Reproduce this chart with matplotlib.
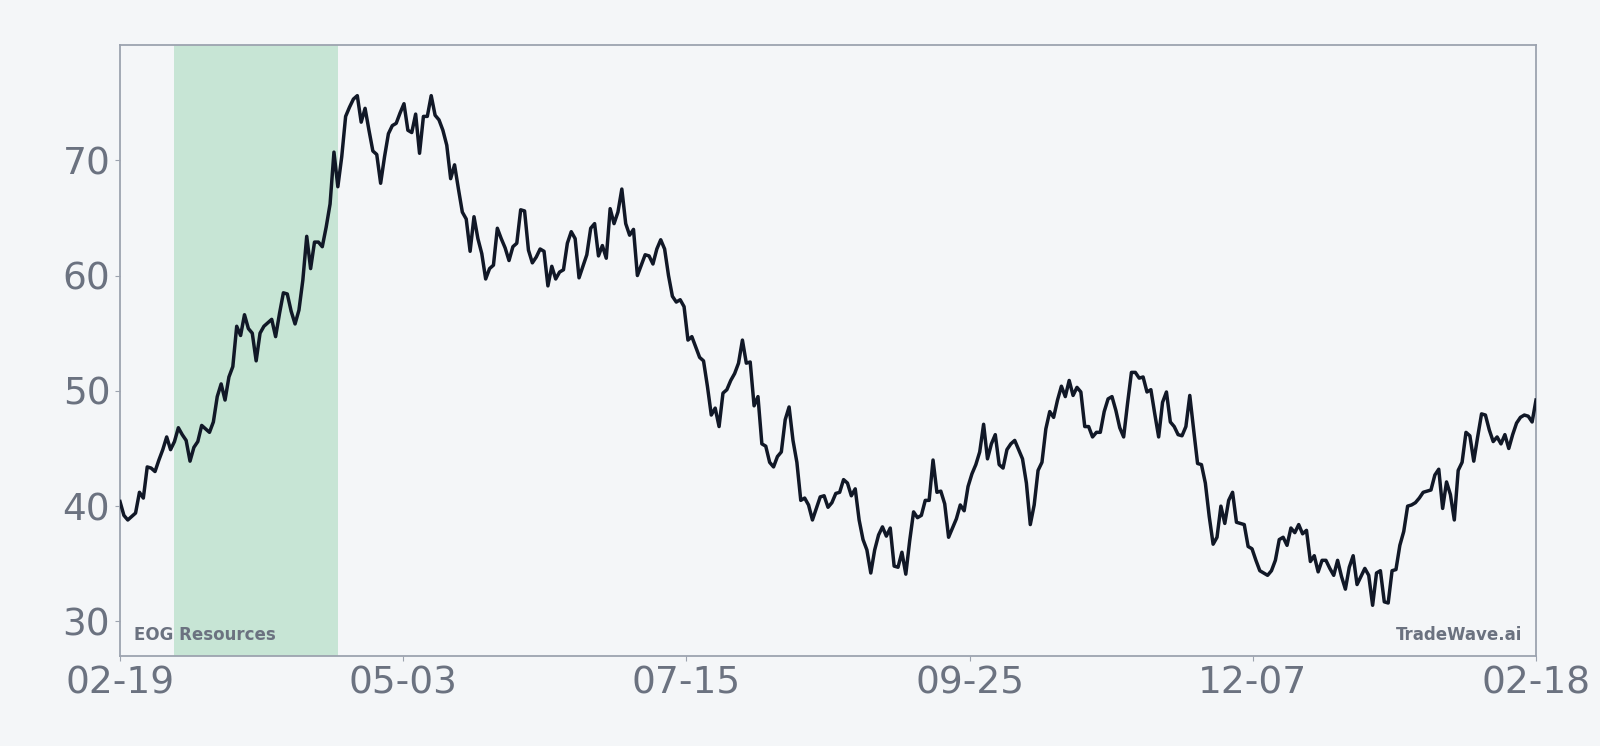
import numpy as np
import pandas as pd
import matplotlib
matplotlib.use("Agg")
import matplotlib.pyplot as plt
import matplotlib.dates as mdates

# ---- data -------------------------------------------------------------
start_date = "2023-02-19"
prices = [
    40.4, 39.2, 38.8, 39.1, 39.4, 41.2, 40.7, 43.4, 43.3, 43.0,
    44.0, 44.9, 46.0, 44.9, 45.6, 46.8, 46.2, 45.7, 43.9, 45.1,
    45.6, 47.0, 46.7, 46.4, 47.3, 49.5, 50.6, 49.2, 51.2, 52.1,
    55.6, 54.8, 56.6, 55.4, 55.0, 52.6, 55.0, 55.6, 55.9, 56.2,
    54.7, 56.7, 58.5, 58.4, 56.9, 55.8, 57.0, 59.6, 63.4, 60.6,
    62.9, 62.9, 62.5, 64.2, 66.2, 70.7, 67.7, 70.3, 73.8, 74.6,
    75.3, 75.6, 73.3, 74.5, 72.6, 70.8, 70.5, 68.0, 70.3, 72.3,
    73.0, 73.2, 74.1, 74.9, 72.6, 72.4, 74.0, 70.6, 73.8, 73.8,
    75.6, 73.9, 73.5, 72.6, 71.3, 68.4, 69.6, 67.5, 65.5, 64.9,
    62.1, 65.1, 63.2, 61.9, 59.7, 60.6, 60.9, 64.1, 63.2, 62.4,
    61.3, 62.5, 62.8, 65.7, 65.6, 62.2, 61.1, 61.6, 62.3, 62.1,
    59.1, 60.8, 59.7, 60.3, 60.5, 62.8, 63.8, 63.2, 59.8, 60.8,
    61.8, 64.1, 64.5, 61.7, 62.6, 61.5, 65.8, 64.5, 65.5, 67.5,
    64.5, 63.5, 64.0, 60.0, 60.9, 61.8, 61.7, 61.0, 62.3, 63.1,
    62.3, 60.0, 58.2, 57.7, 57.9, 57.3, 54.4, 54.7, 53.8, 52.9,
    52.6, 50.4, 47.9, 48.5, 46.9, 49.8, 50.1, 50.9, 51.5, 52.4,
    54.4, 52.4, 52.5, 48.7, 49.5, 45.4, 45.2, 43.8, 43.4, 44.3,
    44.7, 47.5, 48.6, 45.7, 43.8, 40.5, 40.7, 40.1, 38.8, 39.8,
    40.8, 40.9, 39.9, 40.3, 41.1, 41.2, 42.3, 42.0, 40.9, 41.5,
    38.8, 37.1, 36.2, 34.2, 36.2, 37.5, 38.2, 37.4, 38.1, 34.8,
    34.7, 36.0, 34.1, 37.0, 39.5, 39.0, 39.2, 40.5, 40.5, 44.0,
    41.2, 41.3, 40.2, 37.3, 38.1, 38.9, 40.1, 39.6, 41.7, 42.8,
    43.6, 44.7, 47.1, 44.1, 45.4, 46.2, 43.6, 43.3, 44.9, 45.4,
    45.7, 44.9, 44.1, 42.0, 38.4, 40.1, 43.1, 43.8, 46.7, 48.2,
    47.7, 49.2, 50.4, 49.5, 50.9, 49.6, 50.3, 49.9, 46.9, 46.9,
    46.0, 46.4, 46.4, 48.2, 49.3, 49.5, 48.3, 46.8, 46.0, 48.9,
    51.6, 51.6, 51.1, 51.2, 49.9, 50.1, 48.0, 46.0, 49.0, 49.9,
    47.3, 46.9, 46.2, 46.1, 46.9, 49.6, 46.6, 43.7, 43.6, 42.0,
    39.1, 36.7, 37.3, 40.0, 38.5, 40.5, 41.2, 38.6, 38.5, 38.4,
    36.5, 36.3, 35.3, 34.4, 34.2, 34.0, 34.4, 35.3, 37.1, 37.3,
    36.6, 38.1, 37.7, 38.4, 37.6, 37.9, 35.2, 35.7, 34.3, 35.3,
    35.3, 34.6, 34.0, 35.3, 33.9, 32.8, 34.7, 35.7, 33.2, 33.9,
    34.6, 34.0, 31.4, 34.2, 34.4, 31.7, 31.6, 34.4, 34.5, 36.6,
    37.8, 40.0, 40.1, 40.3, 40.7, 41.2, 41.3, 41.4, 42.7, 43.2,
    39.8, 42.1, 41.0, 38.8, 43.1, 43.8, 46.4, 46.1, 43.9, 46.0,
    48.0, 47.9, 46.6, 45.6, 46.0, 45.4, 46.2, 45.0, 46.2, 47.2,
    47.7, 47.9, 47.8, 47.3, 49.2,
]
highlight_start = "2023-03-05"
highlight_end = "2023-04-16"
x_tick_labels = ["02-19", "05-03", "07-15", "09-25", "12-07", "02-18"]
y_ticks = [30, 40, 50, 60, 70]
ticker_label = "EOG Resources"
brand_label = "TradeWave.ai"

# ---- style ------------------------------------------------------------
BG = "#f4f6f8"
LINE = "#111827"
SPINE_GRAY = "#9ca3af"
TEXT_GRAY = "#6b7280"
HILITE = "#16a34a"

dates = pd.date_range(start_date, periods=len(prices), freq="D")

fig = plt.figure(figsize=(16, 7.46), dpi=100, facecolor=BG)
ax = fig.add_axes([0.075, 0.1206, 0.885, 0.8192])
ax.set_facecolor(BG)

ax.axvspan(pd.Timestamp(highlight_start), pd.Timestamp(highlight_end),
           color=HILITE, alpha=0.2, lw=0, zorder=1)
ax.plot(dates, prices, color=LINE, lw=2.5, zorder=3,
        solid_joinstyle="round")

ax.set_xlim(dates[0], dates[-1])
ax.set_ylim(27, 80)

x0 = mdates.date2num(dates[0])
x1 = mdates.date2num(dates[-1])
ax.set_xticks(np.linspace(x0, x1, len(x_tick_labels)))
ax.set_xticklabels(x_tick_labels)
ax.set_yticks(y_ticks)
ax.set_yticklabels([str(v) for v in y_ticks])

for s in ax.spines.values():
    s.set_color(SPINE_GRAY)
    s.set_linewidth(1.3)

ax.tick_params(axis="both", colors=SPINE_GRAY, labelcolor=TEXT_GRAY,
               labelsize=27, length=3.5, width=0.8)
ax.tick_params(axis="x", pad=3)
ax.tick_params(axis="y", pad=3.5)
ax.grid(False)

ax.text(0.01, 0.02, ticker_label, transform=ax.transAxes, ha="left",
        va="bottom", fontsize=12, fontweight="bold", color=TEXT_GRAY)
ax.text(0.9905, 0.02, brand_label, transform=ax.transAxes, ha="right",
        va="bottom", fontsize=12, fontweight="bold", color=TEXT_GRAY)

fig.savefig("out.png", dpi=100, facecolor=BG)
